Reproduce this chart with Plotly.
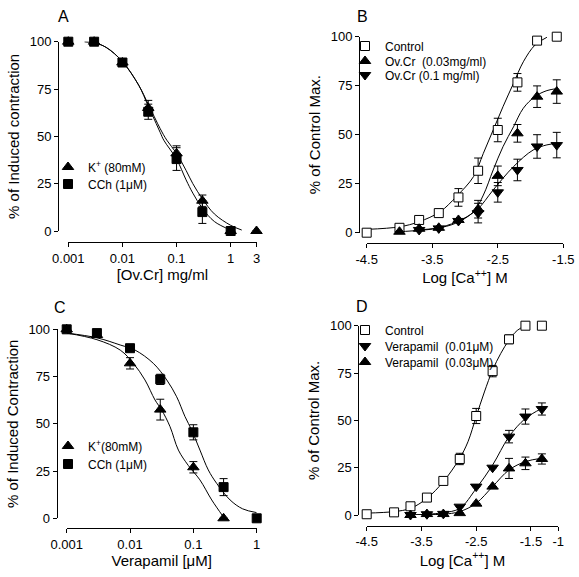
import math
import plotly.graph_objects as go

# ---------------- Panel A data ----------------
a_conc = [0.001, 0.003, 0.01, 0.03, 0.1, 0.3, 1, 3]
a_k_mean = [100, 100, 89, 65, 41, 16, 0, 0]
a_k_err = [0, 0, 0, 4, 4, 3, 0, 0]
a_cch_conc = [0.001, 0.003, 0.01, 0.03, 0.1, 0.3, 1]
a_cch_mean = [100, 100, 89, 63, 38, 10, 0]
a_cch_err = [0, 0, 0, 4, 6, 6, 0]
a_k_fit_x = [0.002, 0.003, 0.005, 0.01, 0.02, 0.03, 0.05, 0.066, 0.1, 0.15, 0.2, 0.3, 0.5, 1.0, 1.6]
a_k_fit_y = [100, 99.5, 97, 89.5, 77, 67, 54, 48, 41, 32, 25, 17, 9, 3, 0.5]
a_cch_fit_x = [0.002, 0.003, 0.005, 0.01, 0.02, 0.03, 0.05, 0.058, 0.1, 0.15, 0.2, 0.3, 0.5, 1.0]
a_cch_fit_y = [100, 99.5, 97, 89.5, 77, 66, 52, 48, 38, 27, 20, 12, 5, 0.5]

# ---------------- Panel B data ----------------
b_ctrl_x = [-4.5, -4.0, -3.7, -3.4, -3.1, -2.8, -2.5, -2.2, -1.9, -1.6]
b_ctrl_y = [0, 2.5, 6.5, 10, 18, 31.6, 52.4, 76.7, 98, 100]
b_ctrl_e = [0, 0, 0, 2, 4.5, 6.5, 6, 4.5, 0, 0]
b_ov3_x = [-4.0, -3.7, -3.4, -3.1, -2.8, -2.5, -2.2, -1.9, -1.6]
b_ov3_y = [0.5, 2, 2.5, 6.5, 12, 29, 50.7, 69.4, 72]
b_ov3_e = [0, 0, 0, 0, 4.5, 5, 4.5, 5.5, 6]
b_ov10_x = [-3.7, -3.4, -3.1, -2.8, -2.5, -2.2, -1.9, -1.6]
b_ov10_y = [1.4, 2.2, 6, 10, 20.6, 32, 44, 44.7]
b_ov10_e = [0, 0, 0, 5, 5, 5.5, 6, 6.5]
b_ctrl_fit_x = [-4.5, -4.0, -3.7, -3.38, -3.13, -2.87, -2.72, -2.57, -2.42, -2.26, -2.11, -1.93, -1.75]
b_ctrl_fit_y = [1.7, 3, 5.6, 10.7, 18.5, 28.6, 40.5, 52.4, 64.3, 76.2, 87.2, 95.8, 99.7]
b_ov3_fit_x = [-4.0, -3.7, -3.43, -3.13, -2.87, -2.72, -2.57, -2.42, -2.26, -2.11, -1.93, -1.75, -1.6]
b_ov3_fit_y = [0.5, 1.2, 2.2, 5, 10.7, 19.2, 32, 43.9, 54, 63.5, 69.5, 72.5, 73.5]
b_ov10_fit_x = [-3.75, -3.43, -3.13, -2.82, -2.57, -2.26, -1.96, -1.75, -1.6]
b_ov10_fit_y = [1.4, 2.4, 5.5, 11.6, 21.8, 33.7, 42.2, 44.8, 45.5]

# ---------------- Panel C data ----------------
c_k_conc = [0.001, 0.003, 0.01, 0.03, 0.1, 0.3]
c_k_mean = [100, 97, 82, 57.5, 27, 0]
c_k_err = [0, 0, 3, 5.5, 3, 0]
c_cch_conc = [0.001, 0.003, 0.01, 0.03, 0.1, 0.3, 1]
c_cch_mean = [100, 98, 90, 73.5, 45.5, 16.5, 0]
c_cch_err = [0, 0, 0, 2.7, 4, 4.5, 0]
c_k_fit_x = [0.001, 0.003, 0.007, 0.0113, 0.0172, 0.0248, 0.0316, 0.0428, 0.058, 0.083, 0.127, 0.195, 0.297]
c_k_fit_y = [98, 94.5, 89, 82, 73.2, 62.6, 57.3, 48.5, 36.1, 28, 20.3, 9.7, 0.8]
c_cch_fit_x = [0.001, 0.003, 0.007, 0.012, 0.0233, 0.038, 0.0545, 0.0738, 0.094, 0.127, 0.172, 0.233, 0.38, 0.6, 1.0]
c_cch_fit_y = [98, 95.5, 91.7, 89, 82, 73.2, 64.3, 53.8, 46.7, 36.1, 25.6, 18.5, 9.7, 5, 3]

# ---------------- Panel D data ----------------
d_ctrl_x = [-4.5, -4.0, -3.7, -3.4, -3.1, -2.8, -2.5, -2.2, -1.9, -1.6, -1.3]
d_ctrl_y = [0.4, 1.4, 4.6, 9.2, 18, 29.6, 52.3, 76, 92.8, 100, 100]
d_ctrl_e = [0, 0, 0, 0, 0, 3, 4, 3, 2.3, 0, 0]
d_v1_x = [-3.7, -3.4, -3.1, -2.8, -2.5, -2.2, -1.9, -1.6, -1.3]
d_v1_y = [0, 0.4, 0.6, 4.4, 15, 25, 41.4, 52, 56]
d_v1_e = [0, 0, 0, 0, 0, 0, 3.3, 4, 3.2]
d_v3_x = [-3.7, -3.4, -3.1, -2.8, -2.5, -2.2, -1.9, -1.6, -1.3]
d_v3_y = [0, 0.5, 0.5, 1, 6, 15, 24.6, 27.3, 29.6]
d_v3_e = [0, 0, 0, 0, 0, 0, 5.3, 3.3, 2.7]
d_ctrl_fit_x = [-4.5, -4.0, -3.7, -3.4, -3.1, -2.8, -2.65, -2.5, -2.35, -2.2, -2.05, -1.9, -1.75, -1.6]
d_ctrl_fit_y = [1, 1.8, 3.5, 8.8, 17.6, 30, 38.7, 52, 65, 76.6, 85.4, 92.4, 97.5, 100]
d_v1_fit_x = [-3.7, -3.4, -3.1, -2.8, -2.5, -2.2, -1.9, -1.6, -1.3]
d_v1_fit_y = [0, 0.4, 1.2, 3.5, 14, 26.4, 41.4, 51, 56.3]
d_v3_fit_x = [-3.7, -3.4, -3.1, -2.8, -2.5, -2.2, -1.9, -1.6, -1.3]
d_v3_fit_y = [0, 0.2, 0.4, 1.8, 6.2, 15, 23.8, 28.2, 30]

# tick labels
log_ticks_a = [0.001, 0.01, 0.1, 1, 3]
log_ticks_a_text = ["0.001", "0.01", "0.1", "1", "3"]
log_ticks_c = [0.001, 0.01, 0.1, 1]
log_ticks_c_text = ["0.001", "0.01", "0.1", "1"]
ca_ticks_b = [-4.5, -3.5, -2.5, -1.5]
ca_ticks_b_text = ["-4.5", "-3.5", "-2.5", "-1.5"]
ca_ticks_d = [-4.5, -3.5, -2.5, -1.5, -1]
ca_ticks_d_text = ["-4.5", "-3.5", "-2.5", "-1.5", "-1"]
y_ticks = [0, 25, 50, 75, 100]

FONT = "Liberation Sans, Arial, sans-serif"
W, H = 579, 577

fig = go.Figure()


def curve(x, y, xa, ya):
    fig.add_trace(go.Scatter(x=x, y=y, mode="lines", xaxis=xa, yaxis=ya,
                             line=dict(color="black", width=1, shape="spline", smoothing=1.0),
                             showlegend=False, hoverinfo="skip"))


def points(x, y, e, xa, ya, symbol, name, legend, fill="black", size=10):
    fig.add_trace(go.Scatter(
        x=x, y=y, mode="markers", xaxis=xa, yaxis=ya, name=name, legend=legend,
        cliponaxis=False,
        marker=dict(symbol=symbol, size=size, color=fill,
                    line=dict(color="black", width=1)),
        error_y=dict(type="data", array=e, visible=True, color="black",
                     thickness=1, width=4)))


# Panel A
curve(a_k_fit_x, a_k_fit_y, "x", "y")
curve(a_cch_fit_x, a_cch_fit_y, "x", "y")
points(a_conc, a_k_mean, a_k_err, "x", "y", "triangle-up", "K<sup>+</sup> (80mM)", "legend")
points(a_cch_conc, a_cch_mean, a_cch_err, "x", "y", "square", "CCh (1μM)", "legend2", size=9)

# Panel B
curve(b_ctrl_fit_x, b_ctrl_fit_y, "x2", "y2")
curve(b_ov3_fit_x, b_ov3_fit_y, "x2", "y2")
curve(b_ov10_fit_x, b_ov10_fit_y, "x2", "y2")
points(b_ctrl_x, b_ctrl_y, b_ctrl_e, "x2", "y2", "square", "Control", "legend3", fill="white", size=9)
points(b_ov10_x, b_ov10_y, b_ov10_e, "x2", "y2", "triangle-down", "Ov.Cr (0.1 mg/ml)", "legend5")
points(b_ov3_x, b_ov3_y, b_ov3_e, "x2", "y2", "triangle-up", "Ov.Cr  (0.03mg/ml)", "legend4")

# Panel C
curve(c_k_fit_x, c_k_fit_y, "x3", "y3")
curve(c_cch_fit_x, c_cch_fit_y, "x3", "y3")
points(c_k_conc, c_k_mean, c_k_err, "x3", "y3", "triangle-up", "K<sup>+</sup>(80mM)", "legend6")
points(c_cch_conc, c_cch_mean, c_cch_err, "x3", "y3", "square", "CCh (1μM)", "legend7", size=9)

# Panel D
curve(d_ctrl_fit_x, d_ctrl_fit_y, "x4", "y4")
curve(d_v1_fit_x, d_v1_fit_y, "x4", "y4")
curve(d_v3_fit_x, d_v3_fit_y, "x4", "y4")
points(d_ctrl_x, d_ctrl_y, d_ctrl_e, "x4", "y4", "square", "Control", "legend8", fill="white", size=9)
points(d_v1_x, d_v1_y, d_v1_e, "x4", "y4", "triangle-down", "Verapamil  (0.01μM)", "legend9")
points(d_v3_x, d_v3_y, d_v3_e, "x4", "y4", "triangle-up", "Verapamil  (0.03μM)", "legend10")


def px(x):
    return x / W


def py(y):
    return 1 - y / H


axis_common = dict(showline=True, linecolor="black", linewidth=1, ticks="outside",
                   ticklen=4, tickwidth=1, tickcolor="black", showgrid=False,
                   zeroline=False, anchor="free", automargin=False,
                   ticklabeloverflow="allow",
                   tickfont=dict(family=FONT, size=13, color="black"))


def xaxis(domain_px, pos_py, title, **kw):
    d = dict(axis_common)
    d.update(domain=[px(domain_px[0]), px(domain_px[1])], position=py(pos_py),
             title=dict(text=title, font=dict(family=FONT, size=15, color="black"), standoff=4))
    d.update(kw)
    return d


def yaxis(domain_py, pos_px, title):
    d = dict(axis_common)
    d.update(domain=[py(domain_py[1]), py(domain_py[0])], position=px(pos_px),
             range=[0, 100], tickvals=y_ticks,
             title=dict(text=title, font=dict(family=FONT, size=15, color="black"), standoff=5))
    return d


legend_common = dict(bgcolor="rgba(0,0,0,0)", font=dict(family=FONT, size=12, color="black"),
                     xanchor="left", yanchor="top", tracegroupgap=0, itemclick=False,
                     itemdoubleclick=False)


def leg(marker_x, marker_y):
    # legend box placed so that its single entry's symbol sits at the given point
    return dict(legend_common, x=px(marker_x - 22), y=py(marker_y - 13.5))


fig.update_layout(
    width=W, height=H, margin=dict(l=0, r=0, t=0, b=0, pad=0, autoexpand=False),
    paper_bgcolor="white", plot_bgcolor="white",
    font=dict(family=FONT, color="black"),
    xaxis=xaxis([68.3, 256.5], 242, "[Ov.Cr] mg/ml", type="log",
                range=[-3, math.log10(3)], tickvals=log_ticks_a, ticktext=log_ticks_a_text),
    yaxis=yaxis([41.7, 231], 58, "% of Induced contraction"),
    xaxis2=xaxis([366.7, 563.3], 243.3, "Log [Ca<sup>++</sup>] M",
                 range=[-4.5, -1.5], tickvals=ca_ticks_b, ticktext=ca_ticks_b_text),
    yaxis2=yaxis([36.7, 232.7], 359, "% of Control Max."),
    xaxis3=xaxis([66.7, 256.7], 528.3, "Verapamil [μM]", type="log",
                 range=[-3, 0], tickvals=log_ticks_c, ticktext=log_ticks_c_text),
    yaxis3=yaxis([329.3, 518.3], 56.7, "% of Induced Contraction"),
    xaxis4=xaxis([366.7, 558.3], 525.7, "Log [Ca<sup>++</sup>] M",
                 range=[-4.5, -1], tickvals=ca_ticks_d, ticktext=ca_ticks_d_text),
    yaxis4=yaxis([325.7, 515], 358.3, "% of Control Max."),
    legend=leg(70, 166),
    legend2=leg(70, 183),
    legend3=leg(367, 45),
    legend4=leg(367, 60),
    legend5=leg(367, 74),
    legend6=leg(70, 445),
    legend7=leg(70, 463),
    legend8=leg(367, 329),
    legend9=leg(367, 345),
    legend10=leg(367, 361),
)

for letter, (lx, ly) in {"A": (63, 17), "B": (362, 17), "C": (60, 307), "D": (362, 306)}.items():
    fig.add_annotation(text=letter, x=px(lx), y=py(ly), xref="paper", yref="paper",
                       showarrow=False, xanchor="center", yanchor="middle",
                       font=dict(family=FONT, size=16, color="black"))

fig.write_html("out.html", config={"displayModeBar": False},
               post_script="document.body.style.margin='0';")
